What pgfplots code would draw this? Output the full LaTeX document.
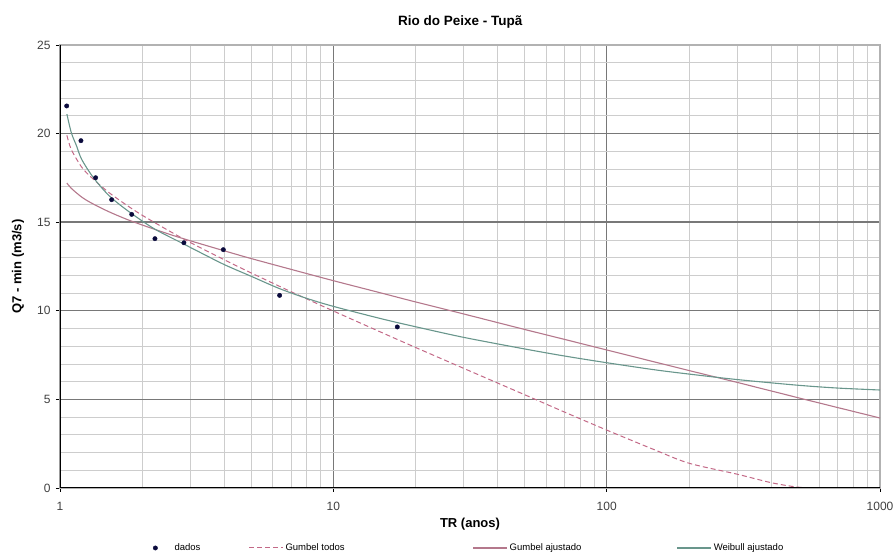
\documentclass[border=0pt]{standalone}
\usepackage{fontspec}
\setmainfont{Liberation Sans}
\usepackage{pgfplots}
\pgfplotsset{compat=1.18}
\definecolor{gtodos}{RGB}{195,105,135}
\definecolor{gajust}{RGB}{180,120,140}
\definecolor{wajust}{RGB}{105,150,140}
\definecolor{dados}{RGB}{10,10,60}
\definecolor{majgrid}{RGB}{120,120,120}
\definecolor{mingrid}{RGB}{205,205,205}
\pgfplotsset{
  lineimg/.style={legend image code/.code={\draw[##1] (0pt,0pt) -- (34pt,0pt);}},
  markimg/.style={legend image code/.code={\path (0pt,0pt) (34pt,0pt); \draw[##1] plot coordinates {(17pt,0pt)};}},
}
\begin{document}
\begin{tikzpicture}
\useasboundingbox (-60pt,-71pt) rectangle (834pt,488pt);
\begin{axis}[
  scale only axis, width=820pt, height=443pt,
  at={(0pt,0pt)}, anchor=south west,
  xmode=log, xmin=1, xmax=1000, ymin=0, ymax=25,
  xtick={1,10,100,1000}, xticklabels={1,10,100,1000},
  ytick={0,5,10,15,20,25},
  minor y tick num=4,
  grid=both,
  major grid style={majgrid, line width=1.4pt},
  minor grid style={mingrid, line width=0.8pt},
  axis line style={gray!60, line width=1.2pt},
  tick pos=left,
  tick align=outside, major tick length=4pt, minor tick length=0pt,
  tick style={black, line width=0.8pt},
  ticklabel style={font=\fontsize{12}{13}\selectfont, text=black!75},
  /pgf/number format/assume math mode=true,
  xticklabel style={yshift=-7pt},
  yticklabel style={xshift=-2pt},
  title={\bfseries Rio do Peixe - Tupã},
  title style={font=\fontsize{13.5}{15}\selectfont, at={(axis description cs:0.488,1.038)}, anchor=center},
  xlabel={\bfseries TR (anos)},
  ylabel={\bfseries Q7 - min (m3/s)},
  label style={font=\fontsize{13}{15}\selectfont},
  xlabel style={at={(axis description cs:0.5,-0.082)}, anchor=center},
  ylabel style={at={(axis description cs:-0.0512,0.5)}, anchor=center},
  legend columns=4,
  legend style={at={(0.0951,-0.1354)}, anchor=west, draw=none, fill=none,
    font=\fontsize{9.5}{11}\selectfont, inner sep=0pt},
  legend cell align=left,
]
\addplot[only marks, mark=*, mark size=2.2pt, color=dados, markimg] coordinates {
(1.058,21.56) (1.193,19.6) (1.35,17.51) (1.545,16.27) (1.83,15.44)
(2.225,14.07) (2.84,13.84) (3.96,13.45) (6.36,10.87) (17.14,9.09)
};
\addlegendentry{\makebox[72pt][l]{dados}}
\addplot[smooth, color=gtodos, line width=1pt, dash pattern=on 5pt off 3pt, lineimg] coordinates {
(1.06,19.9) (1.1,19.1) (1.2,18.11) (1.3,17.54) (1.5,16.71) (1.75,15.97) (2,15.39)
(2.5,14.52) (3,13.85) (4,12.87) (5,12.14) (7,11.08) (10,9.99) (15,8.78)
(20,7.93) (30,6.75) (50,5.27) (70,4.29) (100,3.27) (150,2.15) (200,1.4)
(300,0.78) (400,0.3) (500,0.05) (600,0) (1000,0)
};
\addlegendentry{\makebox[185pt][l]{Gumbel todos}}
\addplot[smooth, color=gajust, line width=1.1pt, lineimg] coordinates {
(1.06,17.21) (1.1,16.91) (1.2,16.42) (1.3,16.09) (1.5,15.61) (1.75,15.17)
(2,14.84) (2.5,14.33) (3,13.95) (4,13.38) (5,12.95) (7,12.34) (10,11.70)
(15,11.00) (20,10.50) (30,9.82) (50,8.95) (70,8.39) (100,7.79) (150,7.11)
(200,6.63) (300,5.96) (500,5.10) (700,4.54) (1000,3.95)
};
\addlegendentry{\makebox[165pt][l]{Gumbel ajustado}}
\addplot[smooth, color=wajust, line width=1.1pt, lineimg] coordinates {
(1.06,21.1) (1.1,20.05) (1.15,19.3) (1.2,18.55) (1.32,17.55) (1.5,16.55)
(1.75,15.7) (2.2,14.65) (2.81,13.8) (3.25,13.3) (4,12.6) (5,11.95) (6.36,11.25)
(8,10.7) (10,10.25) (15,9.55) (20,9.1) (30,8.5) (50,7.85) (70,7.45)
(100,7.07) (150,6.67) (200,6.43) (300,6.12) (500,5.80) (700,5.64) (1000,5.53)
};
\addlegendentry{Weibull ajustado}
\draw[black, line width=1.6pt] (rel axis cs:0,1) -- (rel axis cs:0,0) -- (rel axis cs:1,0);
\end{axis}
\end{tikzpicture}
\end{document}
